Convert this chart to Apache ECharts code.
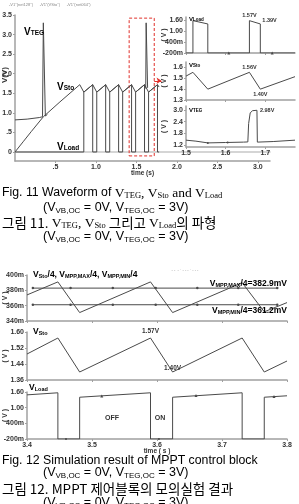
<!DOCTYPE html>
<html><head><meta charset="utf-8">
<script src="https://cdn.jsdelivr.net/npm/echarts@6/dist/echarts.min.js"></script>
<style>html,body{margin:0;padding:0;background:#fff}#c{width:299px;height:504px}</style>
</head><body><div id="c"></div>
<script>
// ===== Fig. 11 main plot =====
const mainYTicks = [0, 0.5, 1.0, 1.5, 2.0, 2.5, 3.0, 3.5];
const mainYLabels = ['0', '.5', '1.0', '1.5', '2.0', '2.5', '3.0', '3.5'];
const mainXTicks = [0.5, 1.0, 1.5, 2.0, 2.5, 3.0];
const mainXLabels = ['.5', '1.0', '1.5', '2.0', '2.5', '3.0'];
const mainVTEG = [[0, 0.82], [0.15, 0.84], [0.30, 0.88], [0.34, 0.9], [0.35, 3.3], [0.365, 3.3], [0.375, 0.92], [0.40, 0.96]];
const mainVTEGSpike = [[1.615, 1.62], [1.62, 3.3], [1.632, 3.3], [1.638, 1.64]];
const mainVSto = [[0, 0], [0.1, 0.26], [0.2, 0.52], [0.35, 0.9], [0.555, 1.28], [0.80, 1.72],
  [0.85, 1.53], [0.96, 1.72], [1.01, 1.53], [1.12, 1.72], [1.17, 1.53], [1.28, 1.72], [1.33, 1.53],
  [1.44, 1.72], [1.49, 1.53], [1.60, 1.72], [1.65, 1.53], [1.76, 1.72], [1.78, 1.66]];
const mainVLoad = [[0, 0], [0.85, 0], [0.85, 1.53], [0.96, 1.72], [0.96, 0], [1.01, 0], [1.01, 1.53],
  [1.12, 1.72], [1.12, 0], [1.17, 0], [1.17, 1.53], [1.28, 1.72], [1.28, 0], [1.33, 0], [1.33, 1.53],
  [1.44, 1.72], [1.44, 0], [1.49, 0], [1.49, 1.53], [1.60, 1.72], [1.60, 0], [1.65, 0], [1.65, 1.53],
  [1.76, 1.72], [1.76, 0], [1.78, 0]];
const zoomBoxT = [1.41, 1.72];
const zoomBoxV = [-0.1, 3.42];
const arrowT = [1.72, 1.81];
const arrowV = 1.82;

// ===== Fig. 11 insets =====
const insXTicks = [1.5, 1.6, 1.7];
const insXLabels = ['1.5', '1.6', '1.7'];
const insLoadTicks = [-0.2, 0.4, 1.0, 1.6];
const insLoadLabels = ['-200m', '400m', '1.00', '1.60'];
const insStoTicks = [1.3, 1.4, 1.5, 1.6];
const insStoLabels = ['1.3', '1.4', '1.5', '1.6'];
const insTegTicks = [1.2, 1.8, 2.4, 3.0];
const insTegLabels = ['1.2', '1.8', '2.4', '3.0'];
const insVLoad = [[1.5, -0.2], [1.5175, -0.2], [1.5175, 1.57], [1.555, 1.39], [1.555, -0.2], [1.66, -0.2],
  [1.66, 1.57], [1.6875, 1.39], [1.6875, -0.2], [1.775, -0.2]];
const insVSto = [[1.5, 1.52], [1.5175, 1.555], [1.555, 1.40], [1.66, 1.555], [1.6875, 1.40], [1.775, 1.515]];
const insVTEG = [[1.5, 1.45], [1.525, 1.40], [1.555, 1.31], [1.6, 1.33], [1.645, 1.35], [1.656, 1.36],
  [1.658, 2.3], [1.662, 2.85], [1.668, 2.96], [1.679, 2.98], [1.68, 1.35], [1.72, 1.38], [1.775, 1.45]];

// ===== Fig. 12 =====
const f12XTicks = [3.4, 3.5, 3.6, 3.7, 3.8];
const f12XLabels = ['3.4', '3.5', '3.6', '3.7', '3.8'];
const f12ATicks = [340, 360, 380, 400];
const f12ALabels = ['340m', '360m', '380m', '400m'];
const f12BTicks = [1.36, 1.44, 1.52, 1.60];
const f12BLabels = ['1.36', '1.44', '1.52', '1.60'];
const f12CTicks = [-0.2, 0.4, 1.0, 1.6];
const f12CLabels = ['-200m', '400m', '1.00', '1.60'];
const f12VStoQ = [[3.4, 374], [3.4475, 391], [3.481, 351], [3.590, 391], [3.624, 351], [3.731, 390], [3.765, 352], [3.8, 364]];
const vmppMax4 = 382.9;
const vmppMin4 = 361.2;
const f12MarkT = [3.409, 3.467, 3.532, 3.598, 3.662, 3.725, 3.785];
const f12VSto = [[3.4, 1.49], [3.4475, 1.57], [3.481, 1.40], [3.590, 1.57], [3.624, 1.40], [3.731, 1.57], [3.765, 1.40], [3.8, 1.455]];
const f12VLoad = [[3.4, 1.49], [3.4475, 1.57], [3.4475, -0.2], [3.481, -0.2], [3.481, 1.40], [3.590, 1.57],
  [3.590, -0.2], [3.624, -0.2], [3.624, 1.40], [3.731, 1.57], [3.731, -0.2], [3.765, -0.2], [3.765, 1.40], [3.8, 1.455]];

// ===== build =====
const AX = '#a0a0a0', TX = '#333', LN = '#4a4a4a', RED = '#e0302a';
const SANS = 'Liberation Sans', SERIF = 'Liberation Serif', KR = 'Noto Sans CJK KR';
const lbl = {fontSize: 7, fontWeight: 'bold', color: TX, fontFamily: SANS};
function fmt(ticks, labels) {
  return v => { const i = ticks.findIndex(t => Math.abs(t - v) < 1e-6); return i >= 0 ? labels[i] : ''; };
}
function xAx(grid, min, max, ticks, labels, showLabel, name, nameGap) {
  return {type: 'value', gridIndex: grid, min, max,
    axisLine: {show: true, onZero: false, lineStyle: {color: AX, width: 1.5}},
    axisTick: {show: true, customValues: ticks, length: 2, lineStyle: {color: AX}},
    axisLabel: Object.assign({show: showLabel, customValues: ticks, formatter: fmt(ticks, labels), margin: 3}, lbl),
    splitLine: {show: false},
    name: name || '', nameLocation: 'middle', nameGap: nameGap || 10, nameMoveOverlap: false,
    nameTextStyle: Object.assign({}, lbl, {fontSize: 6.5})};
}
function yAx(grid, min, max, ticks, labels, name, nameGap) {
  return {type: 'value', gridIndex: grid, min, max,
    axisLine: {show: true, onZero: false, lineStyle: {color: AX, width: 1.5}},
    axisTick: {show: true, customValues: ticks, length: 2, lineStyle: {color: AX}},
    axisLabel: Object.assign({customValues: ticks, formatter: fmt(ticks, labels), margin: 3}, lbl),
    splitLine: {show: false},
    name: name || '', nameLocation: 'middle', nameRotate: 90, nameGap: nameGap || 18, nameMoveOverlap: false,
    nameTextStyle: Object.assign({}, lbl)};
}
function ln(xi, data, extra) {
  return Object.assign({type: 'line', xAxisIndex: xi, yAxisIndex: xi, data, showSymbol: false, symbol: 'none',
    lineStyle: {color: LN, width: 1}, animation: false, silent: true, z: 3}, extra || {});
}
function ann(coord, text, pos, extra) {
  return Object.assign({coord, value: text, symbol: 'circle', symbolSize: 0,
    label: Object.assign({show: true, formatter: text, position: pos || 'top', distance: 2}, lbl, {fontSize: 5.5})}, extra || {});
}

const G = {containLabel: false, outerBoundsMode: 'none'};
const grids = [
  Object.assign({left: 15, top: 15, width: 255, height: 146}, G),
  Object.assign({left: 186, top: 17, width: 109, height: 36}, G),
  Object.assign({left: 186, top: 62, width: 109, height: 38}, G),
  Object.assign({left: 186, top: 106, width: 109, height: 41}, G),
  Object.assign({left: 27, top: 275, width: 260, height: 46}, G),
  Object.assign({left: 27, top: 332, width: 260, height: 48}, G),
  Object.assign({left: 27, top: 392, width: 260, height: 47}, G)
];
const xAxes = [
  xAx(0, 0, 3.15, mainXTicks, mainXLabels, true, 'time (s)', 9),
  xAx(1, 1.5, 1.775, insXTicks, insXLabels, false),
  xAx(2, 1.5, 1.775, insXTicks, insXLabels, false),
  xAx(3, 1.5, 1.775, insXTicks, insXLabels, true),
  xAx(4, 3.4, 3.8, f12XTicks, f12XLabels, false),
  xAx(5, 3.4, 3.8, f12XTicks, f12XLabels, false),
  xAx(6, 3.4, 3.8, f12XTicks, f12XLabels, true, 'time ( s )', 9),
  {type: 'value', gridIndex: 0, position: 'top', min: 0, max: 3.15, axisLine: {show: true, lineStyle: {color: '#c8c8c8', width: 1.5}},
    axisTick: {show: false}, axisLabel: {show: false}, splitLine: {show: false}}
];
const yAxes = [
  yAx(0, -0.23, 3.5, mainYTicks, mainYLabels, ''),
  yAx(1, -0.2, 1.77, insLoadTicks, insLoadLabels, '( V )', 18),
  yAx(2, 1.3, 1.65, insStoTicks, insStoLabels, '( V )', 18),
  yAx(3, 1.1, 3.2, insTegTicks, insTegLabels, '( V )', 18),
  yAx(4, 340, 400, f12ATicks, f12ALabels, '( V )', 18),
  yAx(5, 1.36, 1.60, f12BTicks, f12BLabels, '( V )', 18),
  yAx(6, -0.2, 1.6, f12CTicks, f12CLabels, '( V )', 18)
];

const series = [
  ln(0, mainVLoad),
  ln(0, mainVSto, {
    markArea: {silent: true, itemStyle: {color: 'rgba(0,0,0,0)', borderColor: RED, borderType: [3, 2], borderWidth: 1},
      data: [[{coord: [zoomBoxT[0], zoomBoxV[0]]}, {coord: [zoomBoxT[1], zoomBoxV[1]]}]]},
    markLine: {silent: true, symbol: ['none', 'arrow'], symbolSize: 5, label: {show: false},
      lineStyle: {color: RED, width: 1, type: 'solid'},
      data: [[{coord: [arrowT[0], arrowV]}, {coord: [arrowT[1], arrowV]}]]}
  }),
  ln(0, mainVTEG),
  ln(0, mainVTEGSpike),
  ln(1, insVLoad, {markPoint: {data: [
    ann(insVLoad[6], '1.57V', 'top'),
    ann(insVLoad[7], '1.39V', 'right', {label: Object.assign({show: true, formatter: '1.39V', position: 'right', distance: 2, offset: [0, -3]}, lbl, {fontSize: 5.5})}),
    {coord: [1.608, -0.2], symbol: 'triangle', symbolSize: 3, itemStyle: {color: LN}, label: {show: false}},
    {coord: [1.7175, -0.2], symbol: 'triangle', symbolSize: 3, itemStyle: {color: LN}, label: {show: false}}
  ]}}),
  ln(2, insVSto, {markPoint: {data: [ann(insVSto[3], '1.56V', 'top'), ann(insVSto[4], '1.40V', 'bottom')]}}),
  ln(3, insVTEG, {markPoint: {data: [
    ann(insVTEG[9], '2.98V', 'right', {label: Object.assign({show: true, formatter: '2.98V', position: 'right', distance: 3}, lbl, {fontSize: 5.5})}),
    {coord: [1.555, 1.31], symbol: 'circle', symbolSize: 2, itemStyle: {color: LN}, label: {show: false}},
    {coord: [1.605, 1.33], symbol: 'circle', symbolSize: 2, itemStyle: {color: LN}, label: {show: false}}]}}),
  ln(4, f12MarkT.map(t => [t, vmppMax4]), {showSymbol: true, symbol: 'circle', symbolSize: 2.5, itemStyle: {color: LN}}),
  ln(4, f12MarkT.map(t => [t, vmppMin4]), {showSymbol: true, symbol: 'circle', symbolSize: 2.5, itemStyle: {color: LN}}),
  ln(4, f12VStoQ),
  ln(5, f12VSto, {markPoint: {data: [
    ann(f12VSto[3], '1.57V', 'top', {label: Object.assign({show: true, formatter: '1.57V', position: 'top', distance: 3}, lbl, {fontSize: 6.5})}),
    ann(f12VSto[4], '1.40V', 'top', {label: Object.assign({show: true, formatter: '1.40V', position: 'top', distance: 0}, lbl, {fontSize: 6.5})})]}}),
  ln(6, f12VLoad, {markPoint: {data: [
    {coord: [3.46, -0.2], symbol: 'circle', symbolSize: 2, itemStyle: {color: LN}, label: {show: false}},
    {coord: [3.515, 1.45], symbol: 'triangle', symbolSize: 3, itemStyle: {color: LN}, label: {show: false}},
    {coord: [3.603, -0.2], symbol: 'circle', symbolSize: 2, itemStyle: {color: LN}, label: {show: false}},
    {coord: [3.66, 1.47], symbol: 'triangle', symbolSize: 3, itemStyle: {color: LN}, label: {show: false}},
    {coord: [3.78, 1.43], symbol: 'triangle', symbolSize: 3, itemStyle: {color: LN}, label: {show: false}}
  ]}})
];

const rb = {
  b: {fontFamily: SANS, fontWeight: 'bold', fontSize: 8.5, color: TX},
  bs: {fontFamily: SANS, fontWeight: 'bold', fontSize: 5.5, color: TX, padding: [3, 0, 0, 0]},
  m: {fontFamily: SANS, fontWeight: 'bold', fontSize: 6, color: TX},
  ms: {fontFamily: SANS, fontWeight: 'bold', fontSize: 4.5, color: TX, padding: [2, 0, 0, 0]},
  t: {fontFamily: SANS, fontWeight: 'bold', fontSize: 10, color: TX},
  ts: {fontFamily: SANS, fontWeight: 'bold', fontSize: 6.5, color: TX, padding: [3, 0, 0, 0]}
};
const rc = {
  s: {fontFamily: SANS, fontSize: 12.3, color: '#333'},
  V: {fontFamily: SERIF, fontSize: 13.5, color: '#333'},
  sub: {fontFamily: SERIF, fontSize: 8.5, color: '#333', padding: [5, 0, 0, 0]},
  ss: {fontFamily: SANS, fontSize: 8, color: '#333', padding: [5, 0, 0, 0]},
  c: {fontFamily: SANS, fontSize: 12.5, color: '#333'},
  k: {fontFamily: KR, fontSize: 13.5, color: '#333'}
};
const condLine = '{c|(V}{ss|VB,OC}{c| = 0V, V}{ss|TEG,OC}{c| = 3V)}';
function T(x, y, text, rich, align) {
  return {type: 'text', x, y, silent: true, z: 10, style: {text, rich, align: align || 'left', verticalAlign: 'middle'}};
}
function P(x, y, text, size, fill, extra) {
  return {type: 'text', x, y, silent: true, z: 10, style: Object.assign({text, fontSize: size, fontWeight: 'bold', fill, fontFamily: SANS, align: 'center', verticalAlign: 'middle'}, extra || {})};
}
const graphic = [
  P(9, 5, '-V1"(net128")      -V1"(VSto")      -V1"(net064")', 4, '#888', {align: 'left', fontWeight: 'normal'}),
  Object.assign(P(5, 75, 'V(V)', 8, TX), {rotation: Math.PI / 2}),
  T(24, 32, '{t|V}{ts|TEG}', rb),
  T(57, 87, '{t|V}{ts|Sto}', rb),
  T(57, 147, '{t|V}{ts|Load}', rb),
  T(189, 19, '{m|V}{ms|Load}', rb),
  T(189, 65, '{m|V}{ms|Sto}', rb),
  T(189, 110, '{m|V}{ms|TEG}', rb),
  P(185, 270, '- -  - · - - - · - - -', 4, '#aaa', {fontWeight: 'normal'}),
  T(33, 275, '{b|V}{bs|Sto}{b|/4, V}{bs|MPP,MAX}{b|/4, V}{bs|MPP,MIN}{b|/4}', rb),
  T(287, 284, '{b|V}{bs|MPP,MAX}{b|/4=382.9mV}', rb, 'right'),
  T(287, 311, '{b|V}{bs|MPP,MIN}{b|/4=361.2mV}', rb, 'right'),
  T(33, 332, '{b|V}{bs|Sto}', rb),
  T(29, 388, '{b|V}{bs|Load}', rb),
  P(112, 418, 'OFF', 7, TX),
  P(160, 418, 'ON', 7, TX),
  // captions
  T(2, 193, '{s|Fig. 11 Waveform of }{V|V}{sub|TEG}{V|, V}{sub|Sto}{V| and V}{sub|Load}', rc),
  T(43, 208, condLine, rc),
  T(2, 223, '{k|그림 11. }{V|V}{sub|TEG}{V|, V}{sub|Sto}{k| 그리고 }{V|V}{sub|Load}{k|의 파형}', rc),
  T(43, 237, condLine, rc),
  T(2, 461, '{s|Fig. 12 Simulation result of MPPT control block}', rc),
  T(43, 473, condLine, rc),
  T(2, 489, '{k|그림 12. MPPT 제어블록의 모의실험 결과}', rc),
  T(43, 503, condLine, rc)
];

const chart = echarts.init(document.getElementById('c'), null, {renderer: 'canvas'});
chart.setOption({animation: false, backgroundColor: '#fff', grid: grids, xAxis: xAxes, yAxis: yAxes, series, graphic});
</script></body></html>
